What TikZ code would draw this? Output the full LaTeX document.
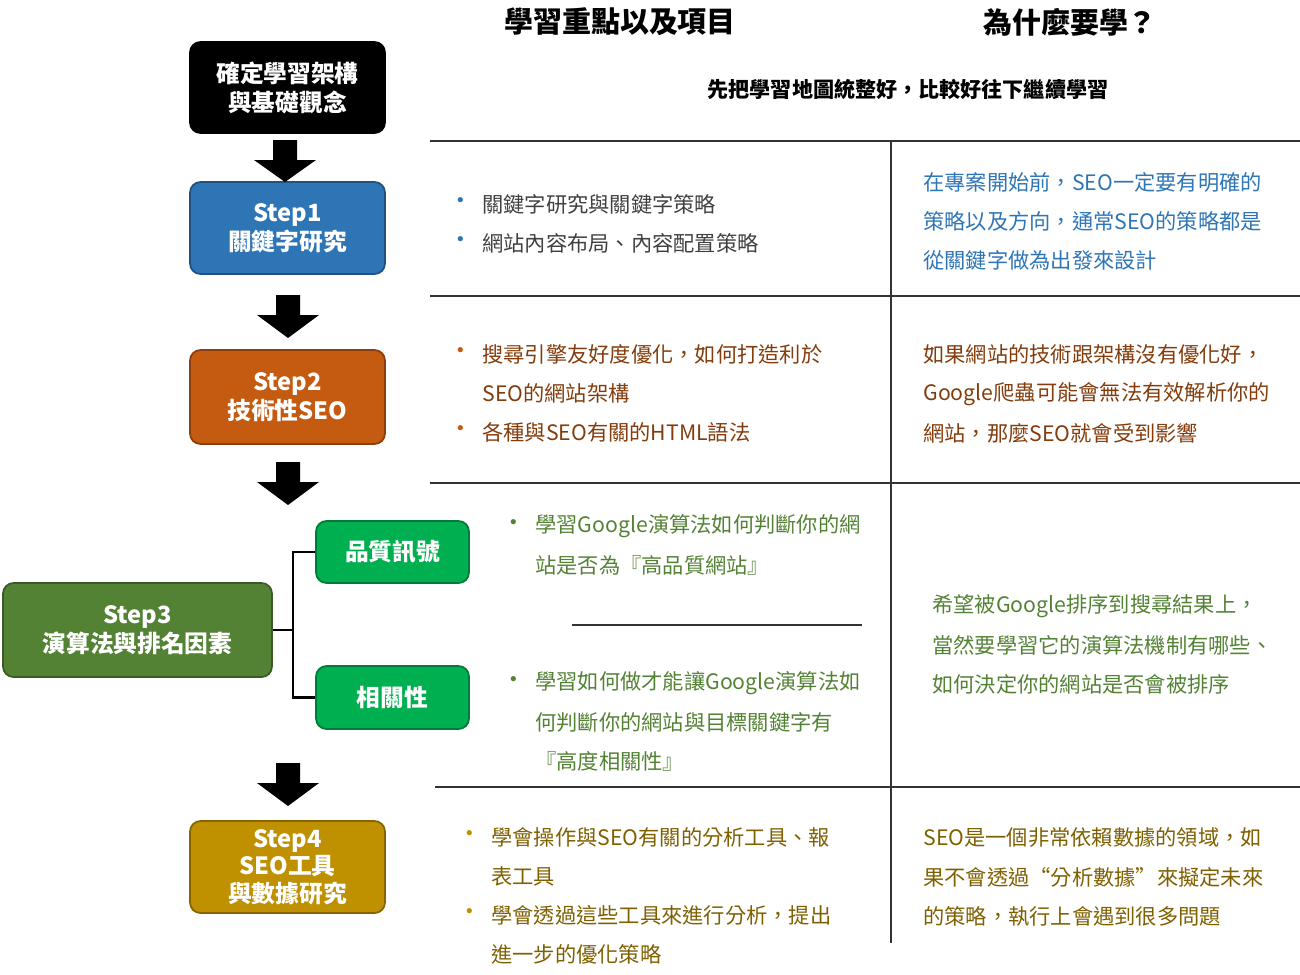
\documentclass[tikz,border=0pt]{standalone}
\usepackage{fontspec}
\setmainfont{Noto Sans CJK TC}
\definecolor{cblue}{HTML}{2E75B6}
\definecolor{corange}{HTML}{C55A11}
\definecolor{cgreen}{HTML}{548235}
\definecolor{cbright}{HTML}{00B050}
\definecolor{cgold}{HTML}{BF9000}
\definecolor{tbrown}{HTML}{843C0C}
\definecolor{tgold}{HTML}{7F6000}
\definecolor{tgray}{HTML}{404040}
\tikzset{
 box/.style={draw=#1!70!black,line width=1pt,fill=#1,rounded corners=6pt,text=white,align=center,font=\fontsize{13.5}{16.5}\selectfont\bfseries,inner sep=0pt},
 txt/.style={anchor=west,inner sep=0pt,font=\fontsize{12.1}{14}\selectfont},
 bul/.style={inner sep=0pt,font=\fontsize{14}{14}\selectfont},
 hdr/.style={inner sep=0pt,font=\fontsize{16.5}{18}\selectfont\bfseries},
 rule/.style={line width=1pt,black!80}
}
\newcommand{\barrow}[3]{% x, ytop, ybot
 \fill[black] (#1-12,#2) -- (#1+12,#2) -- (#1+12,#2+20) -- (#1+31,#2+20) -- (#1,#3) -- (#1-31,#2+20) -- (#1-12,#2+20) -- cycle;}
\begin{document}
\begin{tikzpicture}[x=0.02cm,y=-0.02cm]
\useasboundingbox (0,0) rectangle (1300,974);
\node[hdr] (h1) at (620,22) {學習重點以及項目};
\node[hdr] (h2) at (1070,22) {為什麼要學？};
\node[box=black,minimum width=195*0.02cm,minimum height=91*0.02cm] (b0) at (287.5,87.5) {確定學習架構\\與基礎觀念};
\node[box=cblue,minimum width=195*0.02cm,minimum height=92*0.02cm] (b1) at (287.5,228) {Step1\\關鍵字研究};
\node[box=corange,minimum width=195*0.02cm,minimum height=94*0.02cm] (b2) at (287.5,397) {Step2\\技術性SEO};
\node[box=cgreen,minimum width=269*0.02cm,minimum height=94*0.02cm] (b3) at (137.5,630) {Step3\\演算法與排名因素};
\node[box=cbright,minimum width=153*0.02cm,minimum height=62*0.02cm] (q) at (392.5,552) {品質訊號};
\node[box=cbright,minimum width=153*0.02cm,minimum height=63*0.02cm] (r) at (392.5,697.5) {相關性};
\node[box=cgold,minimum width=195*0.02cm,minimum height=92*0.02cm,font=\fontsize{13.5}{15.5}\selectfont\bfseries] (b4) at (287.5,867) {Step4\\SEO工具\\與數據研究};
\barrow{285}{140}{182}
\barrow{288}{295}{338}
\barrow{288}{462}{505}
\barrow{288}{763}{806}
\coordinate (j) at (293,630);
\draw[line width=1.5pt] (b3.east) -- (j);
\draw[line width=1.5pt] (q.west) -| (j) |- (r.west);
% grid
\draw[rule] (430,141) -- (1300,141);
\draw[rule] (430,296) -- (1300,296);
\draw[rule] (430,483) -- (1300,483);
\draw[rule] (435,787) -- (1300,787);
\draw[rule] (891,141) -- (891,943);
\draw[rule] (572,625) -- (862,625);
\node[inner sep=0pt,font=\fontsize{12}{13}\selectfont\bfseries] (t0) at (908,89) {先把學習地圖統整好，比較好往下繼續學習};
% row 1
\node[bul,text=cblue] at (461,204) {•};
\node[txt,text=tgray] (m11) at (482,204) {關鍵字研究與關鍵字策略};
\node[bul,text=cblue] at (461,243) {•};
\node[txt,text=tgray] (m12) at (482,243) {網站內容布局、內容配置策略};
\node[txt,text=cblue] (w11) at (923,182) {在專案開始前，SEO一定要有明確的};
\node[txt,text=cblue] (w12) at (923,221) {策略以及方向，通常SEO的策略都是};
\node[txt,text=cblue] (w13) at (923,260) {從關鍵字做為出發來設計};
% row 2
\node[bul,text=corange] at (461,354) {•};
\node[txt,text=tbrown] (m21) at (482,354) {搜尋引擎友好度優化，如何打造利於};
\node[txt,text=tbrown] (m22) at (482,393) {SEO的網站架構};
\node[bul,text=corange] at (461,432) {•};
\node[txt,text=tbrown] (m23) at (482,432) {各種與SEO有關的HTML語法};
\node[txt,text=tbrown] (w21) at (923,354) {如果網站的技術跟架構沒有優化好，};
\node[txt,text=tbrown] (w22) at (923,394) {Google爬蟲可能會無法有效解析你的};
\node[txt,text=tbrown] (w23) at (923,433) {網站，那麼SEO就會受到影響};
% row 3
\node[bul,text=cgreen] at (514,526) {•};
\node[txt,text=cgreen] (m31) at (535,526) {學習Google演算法如何判斷你的網};
\node[txt,text=cgreen] (m32) at (535,565) {站是否為『高品質網站』};
\node[bul,text=cgreen] at (514,683) {•};
\node[txt,text=cgreen] (m33) at (535,683) {學習如何做才能讓Google演算法如};
\node[txt,text=cgreen] (m34) at (535,722) {何判斷你的網站與目標關鍵字有};
\node[txt,text=cgreen] (m35) at (535,761) {『高度相關性』};
\node[txt,text=cgreen] (w31) at (932,606) {希望被Google排序到搜尋結果上，};
\node[txt,text=cgreen] (w32) at (932,645) {當然要學習它的演算法機制有哪些、};
\node[txt,text=cgreen] (w33) at (932,684) {如何決定你的網站是否會被排序};
% row 4
\node[bul,text=cgold] at (470,837) {•};
\node[txt,text=tgold] (m41) at (491,837) {學會操作與SEO有關的分析工具、報};
\node[txt,text=tgold] (m42) at (491,876) {表工具};
\node[bul,text=cgold] at (470,915) {•};
\node[txt,text=tgold] (m43) at (491,915) {學會透過這些工具來進行分析，提出};
\node[txt,text=tgold] (m44) at (491,954) {進一步的優化策略};
\node[txt,text=tgold] (w41) at (923,837) {SEO是一個非常依賴數據的領域，如};
\node[txt,text=tgold] (w42) at (923,877) {果不會透過“分析數據”來擬定未來};
\node[txt,text=tgold] (w43) at (923,916) {的策略，執行上會遇到很多問題};
\end{tikzpicture}
\end{document}
